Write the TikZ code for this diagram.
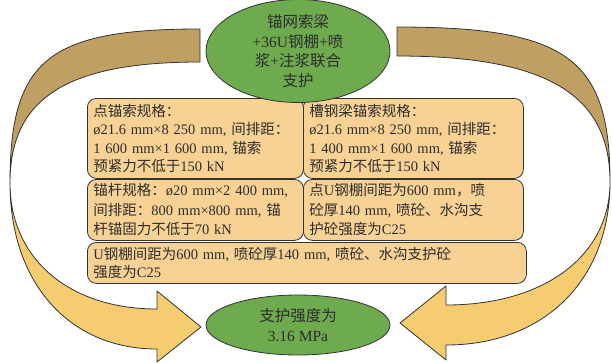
\documentclass[tikz,border=0pt]{standalone}
\usepackage{fontspec}
\setmainfont{Liberation Serif}
\newfontfamily\cjk{Noto Sans CJK SC}
\usetikzlibrary{shapes.geometric}
\definecolor{darkband}{RGB}{192,160,98}
\definecolor{lightband}{RGB}{245,205,112}
\definecolor{boxfill}{RGB}{248,210,148}
\definecolor{greenfill}{RGB}{110,170,78}
\definecolor{linec}{RGB}{50,50,50}
\definecolor{textc}{RGB}{45,45,45}
\newcommand\zh[1]{{\cjk #1}}
\begin{document}
\begin{tikzpicture}[x=1pt,y=-1pt,
  outl/.style={draw=linec, line width=0.8pt, line join=round},
  infobox/.style={outl, fill=boxfill, rounded corners=9pt, anchor=north west,
    inner xsep=6pt, inner ysep=0pt, align=left, text=textc,
    font=\fontsize{14.5}{18.5}\selectfont},
  midrow/.style={font=\fontsize{14.5}{19.5}\selectfont},
  greenell/.style={ellipse, outl, fill=greenfill, inner sep=0pt, align=center,
    text=textc, font=\fontsize{15.5}{19.5}\selectfont}]
\useasboundingbox (0,0) rectangle (612,362);
% left curved arrow
\draw[outl, fill=darkband] (200,29) .. controls (48,29) and (10,60) .. (10,183)
  .. controls (10,98) and (67,62) .. (200,62) -- cycle;
\draw[outl, fill=lightband] (10,183) .. controls (10,282.6) and (68.8,349) .. (157,349)
  -- (157,362) -- (201,327) -- (157,291) -- (157,309)
  .. controls (68.8,309) and (10,258.6) .. (10,183) -- cycle;
% right curved arrow
\draw[outl, fill=darkband] (397,27) .. controls (567,27) and (610,58) .. (610,182)
  .. controls (610,94) and (546,56) .. (397,56) -- cycle;
\draw[outl, fill=lightband] (610,182) .. controls (610,279.8) and (544.4,345) .. (446,345)
  -- (446,360) -- (400,323) -- (446,286) -- (446,305)
  .. controls (544.4,305) and (610,255.8) .. (610,182) -- cycle;
% boxes
\node[infobox, text width=204pt, minimum height=80pt] (a) at (87,98)
  {\mbox{\zh{点锚索规格：}}\\
   \mbox{ø21.6 mm×8 250 mm, \zh{间排距：}}\\
   \mbox{1 600 mm×1 600 mm, \zh{锚索}}\\
   \mbox{\zh{预紧力不低于}150 kN}};
\node[infobox, text width=208pt, minimum height=80pt] (b) at (303,98)
  {\mbox{\zh{槽钢梁锚索规格：}}\\
   \mbox{ø21.6 mm×8 250 mm, \zh{间排距：}}\\
   \mbox{1 400 mm×1 600 mm, \zh{锚索}}\\
   \mbox{\zh{预紧力不低于}150 kN}};
\node[infobox, midrow, text width=204pt, minimum height=61pt] (c) at (87,179)
  {\mbox{\zh{锚杆规格：}ø20 mm×2 400 mm,}\\
   \mbox{\zh{间排距：}800 mm×800 mm, \zh{锚}}\\
   \mbox{\zh{杆锚固力不低于}70 kN}};
\node[infobox, midrow, text width=208pt, minimum height=61pt] (d) at (303,179)
  {\mbox{\zh{点}U\zh{钢棚间距为}600 mm\zh{，喷}}\\
   \mbox{\zh{砼厚}140 mm, \zh{喷砼、水沟支}}\\
   \mbox{\zh{护砼强度为}C25}};
\node[infobox, text width=427pt, minimum height=41pt] (e) at (87,242)
  {\mbox{U\zh{钢棚间距为}600 mm, \zh{喷砼厚}140 mm, \zh{喷砼、水沟支护砼}}\\
   \mbox{\zh{强度为}C25}};
% ellipses
\node[greenell, minimum width=184pt, minimum height=92pt] (top) at (298,51)
  {\zh{锚网索梁}\\ +36U\zh{钢棚}+\zh{喷}\\ \zh{浆}+\zh{注浆联合}\\ \zh{支护}};
\node[greenell, minimum width=184pt, minimum height=60pt] (bot) at (298,325)
  {\zh{支护强度为}\\ 3.16 MPa};
\end{tikzpicture}
\end{document}
